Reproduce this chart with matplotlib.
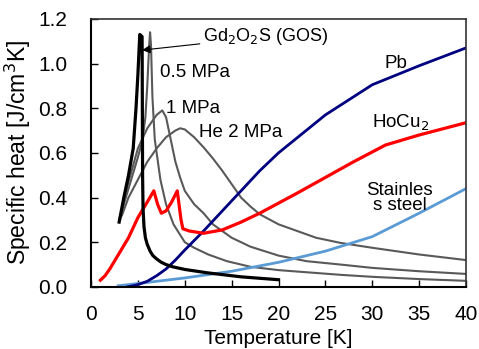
import matplotlib
matplotlib.use("Agg")
import matplotlib.pyplot as plt

plt.rcParams['font.family'] = ['Liberation Sans', 'DejaVu Sans']

# ---- data ----
gos_T = [3.0, 3.5, 4.0, 4.5, 4.8, 5.0, 5.2, 5.45, 5.5, 5.55, 5.65, 5.8, 6.0, 6.3, 6.6, 7.0, 7.5, 8.0, 8.7, 10, 12.4, 16, 20]
gos_C = [0.29, 0.40, 0.50, 0.62, 0.80, 0.95, 1.13, 1.12, 0.50, 0.35, 0.27, 0.22, 0.19, 0.16, 0.14, 0.125, 0.11, 0.10, 0.09, 0.078, 0.063, 0.045, 0.032]

he05_T = [3.0, 4.0, 5.0, 5.5, 5.8, 6.0, 6.2, 6.3, 6.4, 6.55, 6.8, 7.4, 8.0, 8.8, 10, 11, 12.5, 14.5, 17, 20, 26.6, 30, 35, 40]
he05_C = [0.30, 0.44, 0.58, 0.66, 0.76, 0.90, 1.08, 1.14, 1.08, 0.85, 0.66, 0.48, 0.37, 0.28, 0.20, 0.175, 0.145, 0.115, 0.09, 0.075, 0.054, 0.045, 0.035, 0.027]

he1_T = [3.1, 4.0, 5.0, 6.0, 7.0, 7.6, 8.0, 8.4, 9.0, 9.5, 10, 11, 12, 13, 14, 15, 17, 20, 23, 26.6, 30, 35, 40]
he1_C = [0.30, 0.47, 0.62, 0.71, 0.77, 0.79, 0.76, 0.68, 0.56, 0.49, 0.43, 0.37, 0.33, 0.28, 0.25, 0.22, 0.18, 0.14, 0.115, 0.10, 0.085, 0.07, 0.058]

he2_T = [3.3, 4.0, 5.0, 6.0, 7.0, 8.0, 9.0, 9.5, 10, 11, 12, 13, 14, 15, 16, 17, 18, 20, 22, 24, 26.6, 30, 35, 40]
he2_C = [0.32, 0.40, 0.48, 0.56, 0.62, 0.67, 0.70, 0.71, 0.705, 0.67, 0.625, 0.575, 0.52, 0.46, 0.40, 0.36, 0.325, 0.28, 0.25, 0.22, 0.197, 0.175, 0.145, 0.12]

pb_T = [3.9, 4.5, 5, 6, 7, 8, 9, 10, 12, 14, 16, 18, 20, 25, 30, 35, 40]
pb_C = [0.0, 0.005, 0.01, 0.025, 0.05, 0.08, 0.12, 0.165, 0.25, 0.34, 0.43, 0.52, 0.60, 0.77, 0.905, 0.99, 1.07]

hocu_T = [1.0, 1.5, 2, 3, 4, 5, 6, 6.7, 7.1, 7.5, 8, 8.6, 9.2, 9.6, 9.8, 10.5, 12, 14, 16, 18, 20, 22, 25, 28, 31.4, 35, 40]
hocu_C = [0.03, 0.05, 0.08, 0.15, 0.22, 0.31, 0.38, 0.43, 0.37, 0.33, 0.34, 0.38, 0.43, 0.30, 0.26, 0.25, 0.24, 0.255, 0.29, 0.33, 0.375, 0.42, 0.49, 0.56, 0.635, 0.68, 0.735]

ss_T = [2.9, 5, 10, 15, 20, 25, 30, 35, 40]
ss_C = [0.005, 0.015, 0.04, 0.07, 0.11, 0.16, 0.225, 0.33, 0.44]

x_ticks = [0, 5, 10, 15, 20, 25, 30, 35, 40]
y_ticks = [0.0, 0.2, 0.4, 0.6, 0.8, 1.0, 1.2]

# ---- figure ----
fig = plt.figure(figsize=(4.79, 3.49), dpi=100)
ax = fig.add_axes([0.19, 0.178, 0.783, 0.768])

grey = '#595959'
ax.plot(he2_T, he2_C, color=grey, lw=1.5)
ax.plot(he1_T, he1_C, color=grey, lw=1.5)
ax.plot(he05_T, he05_C, color=grey, lw=1.5)
ax.plot(ss_T, ss_C, color='#5B9BD5', lw=2)
ax.plot(pb_T, pb_C, color='#000080', lw=2)
ax.plot(hocu_T, hocu_C, color='#FF0000', lw=2.3)
ax.plot(gos_T, gos_C, color='black', lw=2.3)

ax.set_xlim(0, 40)
ax.set_ylim(0, 1.2)
ax.set_xticks(x_ticks)
ax.set_yticks(y_ticks)
ax.set_yticklabels([f"{v:.1f}" for v in y_ticks])
ax.tick_params(direction='in', length=5, width=1, labelsize=15)
ax.tick_params(axis='y', pad=17)
ax.tick_params(axis='x', pad=13)

for s in ['left', 'bottom']:
    ax.spines[s].set_linewidth(1.5)
    ax.spines[s].set_color('black')
for s in ['top', 'right']:
    ax.spines[s].set_linewidth(1.2)
    ax.spines[s].set_color('#333333')

ax.set_xlabel('Temperature [K]', fontsize=15, labelpad=4)
ax.set_ylabel('Specific heat [J/cm$^3$K]', fontsize=16.5, labelpad=4)

ax.annotate('Gd$_2$O$_2$S (GOS)', xy=(5.45, 1.06), xytext=(11.9, 1.12),
            fontsize=13, va='center', ha='left',
            arrowprops=dict(arrowstyle='-|>', color='black', lw=0.8,
                            mutation_scale=12, shrinkA=0, shrinkB=0))
ax.text(7.4, 0.96, '0.5 MPa', fontsize=13.5, va='center', ha='left')
ax.text(8.0, 0.80, '1 MPa', fontsize=13.5, va='center', ha='left')
ax.text(11.5, 0.69, 'He 2 MPa', fontsize=13.5, va='center', ha='left')
ax.text(31.3, 1.0, 'Pb', fontsize=13.5, va='center', ha='left')
ax.text(30.0, 0.735, 'HoCu$_2$', fontsize=13.5, va='center', ha='left')
ax.text(32.9, 0.40, 'Stainles\ns steel', fontsize=13.5, va='center', ha='center',
        linespacing=0.85)

fig.savefig('out.png', dpi=100)
